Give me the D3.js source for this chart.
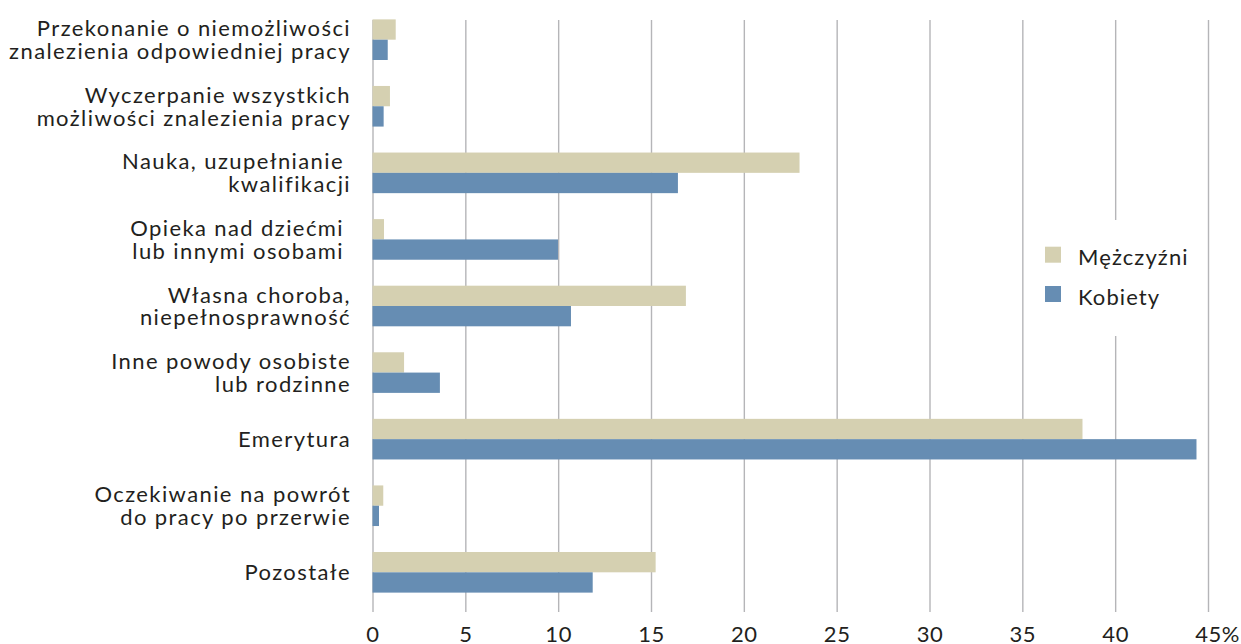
<!DOCTYPE html>
<html>
<head>
<meta charset="utf-8">
<script src="https://cdn.jsdelivr.net/npm/d3@7"></script>
<style>
  html, body { margin: 0; padding: 0; background: #fff; }
  svg { display: block; }
  text { font-family: Lato, "Open Sans", sans-serif; fill: #231f20; }
  .cat { white-space: pre; letter-spacing: 1.4px; }
  .leg { letter-spacing: 1.1px; }
</style>
</head>
<body>
<svg id="chart" width="1241" height="644"></svg>
<script>
const categories = [
  ["Przekonanie o niemożliwości", "znalezienia odpowiedniej pracy"],
  ["Wyczerpanie wszystkich", "możliwości znalezienia pracy"],
  ["Nauka, uzupełnianie ", "kwalifikacji"],
  ["Opieka nad dziećmi ", "lub innymi osobami "],
  ["Własna choroba,", "niepełnosprawność"],
  ["Inne powody osobiste", "lub rodzinne"],
  ["Emerytura"],
  ["Oczekiwanie na powrót", "do pracy po przerwie"],
  ["Pozostałe"]
];
const seriesNames = ["Mężczyźni", "Kobiety"];
const menValues   = [1.25, 0.94, 23.0, 0.62, 16.88, 1.70, 38.24, 0.58, 15.25];
const womenValues = [0.82, 0.60, 16.45, 9.99, 10.69, 3.63, 44.38, 0.35, 11.86];
const tickValues  = [0, 5, 10, 15, 20, 25, 30, 35, 40, 45];
const colors = ["#d5d0b1", "#668db3"];

const svg = d3.select("#chart");
const catKeys = categories.map((c, i) => i);
const x = d3.scaleLinear().domain([0, 45]).range([372.5, 1208]);
const y = d3.scaleBand().domain(catKeys).range([6.4, 605.6]).paddingInner(0.39).paddingOuter(0.195);
const ySub = d3.scaleBand().domain([0, 1]).range([0, y.bandwidth()]);

const gridTop = 20, gridBottom = 612;

// axis + gridlines
const axis = d3.axisBottom(x).tickValues(tickValues)
  .tickSizeInner(-(gridBottom - gridTop)).tickSizeOuter(0).tickPadding(14)
  .tickFormat(d => String(d));
const gAxis = svg.append("g").attr("transform", `translate(0,${gridBottom})`).call(axis);
gAxis.select(".domain").remove();
gAxis.selectAll(".tick line").attr("stroke", "#b5b5b8").attr("stroke-width", 1.4);
gAxis.selectAll(".tick text").attr("font-size", 22).attr("fill", "#231f20")
  .style("font-family", "Lato, 'Open Sans', sans-serif").style("letter-spacing", "0.6px");
gAxis.selectAll(".tick").filter(d => d === 45).each(function() {
  const t = d3.select(this).select("text");
  const w = t.node().getComputedTextLength();
  t.append("tspan").text("%");
  t.attr("text-anchor", "start").attr("x", -w / 2);
});

// bars
const data = [];
catKeys.forEach(i => {
  data.push({ cat: i, s: 0, v: menValues[i] });
  data.push({ cat: i, s: 1, v: womenValues[i] });
});
svg.append("g").selectAll("rect").data(data).join("rect")
  .attr("x", x(0))
  .attr("y", d => y(d.cat) + ySub(d.s))
  .attr("width", d => x(d.v) - x(0))
  .attr("height", ySub.bandwidth())
  .attr("fill", d => colors[d.s]);

// category labels
const lineH = 22.7;
const gLab = svg.append("g");
categories.forEach((lines, i) => {
  const cy = y(i) + y.bandwidth() / 2;
  const t = gLab.append("text").attr("class", "cat").attr("text-anchor", "end").attr("font-size", 22);
  const n = lines.length;
  lines.forEach((ln, j) => {
    const base = cy + (j - (n - 1) / 2) * lineH + 8;
    t.append("tspan").attr("x", 351).attr("y", base).text(ln);
  });
});

// legend
const lg = svg.append("g");
lg.append("rect").attr("x", 1032).attr("y", 220).attr("width", 168).attr("height", 116).attr("fill", "#fff");
seriesNames.forEach((name, i) => {
  const yy = 246.7 + i * 39.3;
  lg.append("rect").attr("x", 1045).attr("y", yy).attr("width", 16).attr("height", 16).attr("fill", colors[i]);
  lg.append("text").attr("class", "leg").attr("x", 1078).attr("y", yy + 18.5).attr("font-size", 22).text(name);
});
</script>
</body>
</html>
